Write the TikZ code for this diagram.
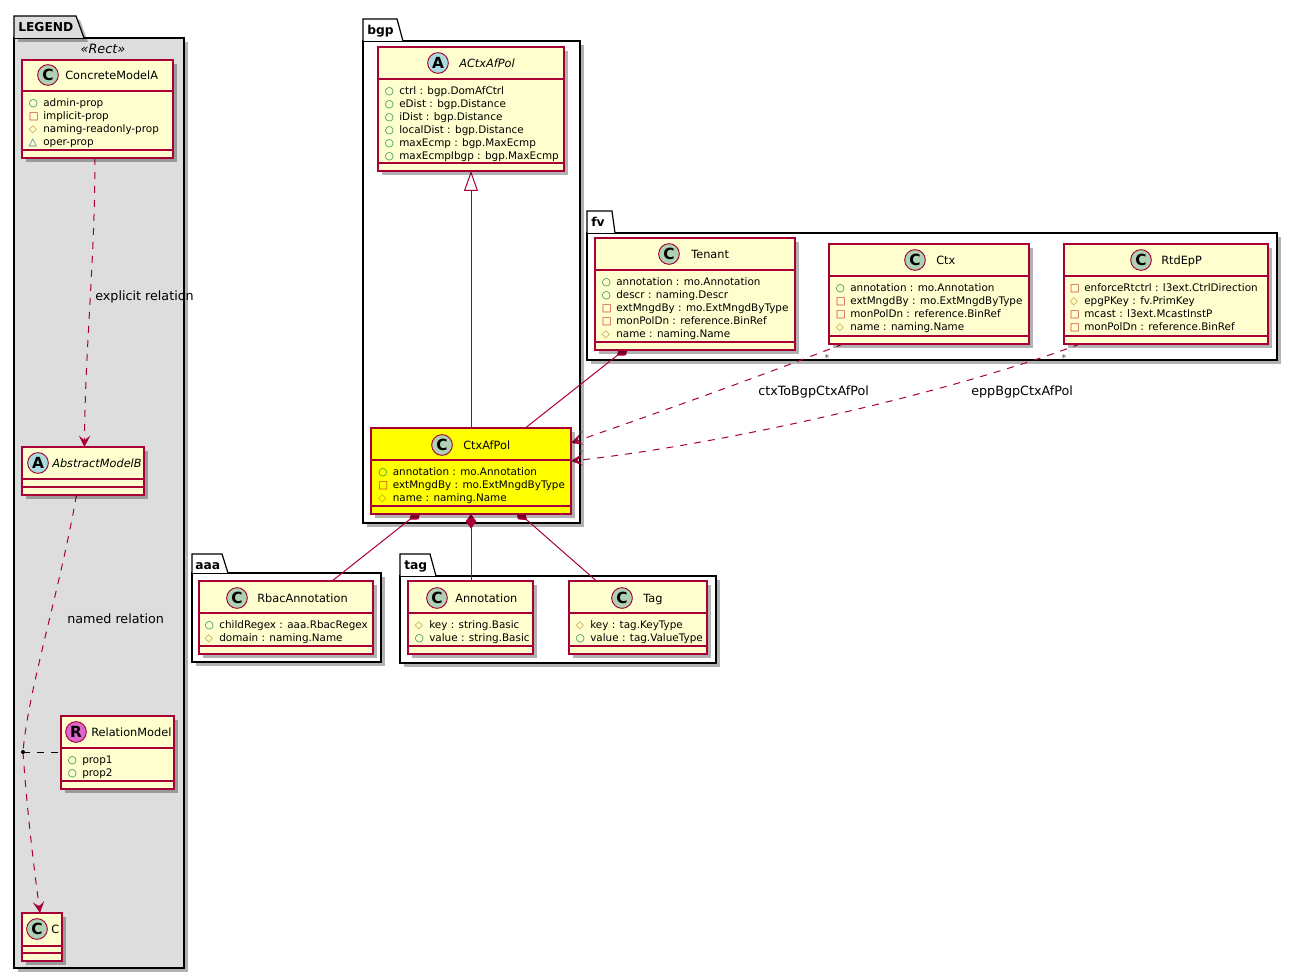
\documentclass[tikz,border=0pt]{standalone}
\usepackage{fontspec}
\setmainfont{DejaVu Sans}
\usepackage{xcolor}
\usetikzlibrary{arrows.meta, shapes.geometric, shadows}

\definecolor{umlborder}{HTML}{A80036}
\definecolor{umlfill}{HTML}{FEFECE}
\definecolor{spotgreen}{HTML}{ADD1B2}
\definecolor{spotblue}{HTML}{A9DCDF}
\definecolor{spotpink}{HTML}{DD66CC}
\definecolor{legendgray}{HTML}{DDDDDD}
\definecolor{brightyellow}{HTML}{FFFF00}
\definecolor{pubcolor}{HTML}{038048}
\definecolor{privcolor}{HTML}{C82930}
\definecolor{protcolor}{HTML}{B38D22}
\definecolor{pkgcolor}{HTML}{1963A0}

\pgfdeclarelayer{pkglayer}
\pgfdeclarelayer{edgelayer}
\pgfsetlayers{pkglayer,edgelayer,main}

\newcommand{\icon}[2]{\rule{0pt}{7pt}\makebox[10.9pt][l]{\textcolor{#1}{#2}}}
\newcommand{\pub}{\icon{pubcolor}{○}}
\newcommand{\priv}{\icon{privcolor}{□}}
\newcommand{\prot}{\icon{protcolor}{◇}}
\newcommand{\pkgv}{\icon{pkgcolor}{△}}

% [fill]{name}{left}{top}{right}{bottom}{first rule}{second rule}
\newcommand{\classbox}[8][umlfill]{
  \node [classnode, fill=#1, minimum width=(#5-#3)*0.75pt, minimum height=(#6-#4)*0.75pt] (#2) at ({(#3+#5)/2},{(#4+#6)/2}) {};
  \draw [umlborder, line width=0.9pt] (#3,#7) -- (#5,#7) (#3,#8) -- (#5,#8);
}

\begin{document}
\begin{tikzpicture}[x=0.75pt, y=-0.75pt,
  classnode/.style={rectangle, draw=umlborder, line width=0.9pt, inner sep=0pt, outer sep=0pt,
    drop shadow={shadow xshift=3pt, shadow yshift=-3pt, fill=black, opacity=0.3}},
  pkgbody/.style={rectangle, draw=black, fill=white, line width=0.9pt, inner sep=0pt, outer sep=0pt,
    drop shadow={shadow xshift=3pt, shadow yshift=-3pt, fill=black, opacity=0.3}},
  pkgtab/.style={draw=black, fill=white, line width=0.9pt},
  pkgname/.style={anchor=west, inner sep=0pt, text height=6.7pt, text depth=0pt, font=\fontsize{9.2}{11}\selectfont\bfseries},
  spot/.style={circle, draw=umlborder, line width=0.7pt, minimum size=15.5pt, inner sep=0pt, text=black,
    font=\fontsize{11.5}{12}\selectfont\bfseries},
  cspot/.style={spot, fill=spotgreen},
  aspot/.style={spot, fill=spotblue},
  rspot/.style={spot, fill=spotpink},
  classname/.style={anchor=west, inner sep=0pt, text height=6.2pt, text depth=0pt, font=\fontsize{8.5}{10}\selectfont},
  props/.style={anchor=north west, inner sep=0pt, align=left, font=\fontsize{7.8}{9.75}\selectfont},
  edgelabel/.style={anchor=west, inner sep=0pt, text height=7.1pt, text depth=0pt, font=\fontsize{9.55}{11}\selectfont},
  mult/.style={inner sep=0pt, text=black!70, font=\fontsize{7}{8}\selectfont},
  relation/.style={draw=umlborder, line width=0.75pt},
  depend/.style={relation, dash pattern=on 5.25pt off 5.25pt, -{Stealth[length=8.5pt, width=8.5pt, inset=3.5pt]}},
  composed/.style={relation, {Diamond[length=11pt, width=8pt]}-, shorten <=-4pt},
  inherit/.style={relation, -{Triangle[open, length=15pt, width=10.5pt, fill=white]}}]

  \useasboundingbox (0,0) rectangle (1297,980);

  % packages
  \begin{pgfonlayer}{pkglayer}
    \node [pkgbody, fill=legendgray, minimum width=127.5pt, minimum height=697.5pt] (legendPkg) at (99,503) {};
    \draw [pkgtab, fill=legendgray, drop shadow={shadow xshift=3pt, shadow yshift=-3pt, fill=black, opacity=0.3}] (legendPkg.north west) -- (14,16) -- (76,16) -- (84,38);
    \node [pkgname] (legendName) at (18,27) {LEGEND};

    \node [pkgbody, minimum width=162.75pt, minimum height=361.5pt] (bgpPkg) at (471.5,282) {};
    \draw [pkgtab] (bgpPkg.north west) -- (363,19) -- (397,19) -- (403,41);
    \node [pkgname] (bgpName) at (367,30) {bgp};

    \node [pkgbody, minimum width=517.5pt, minimum height=95.25pt] (fvPkg) at (932,296.5) {};
    \draw [pkgtab] (fvPkg.north west) -- (587,211) -- (612,211) -- (615,233);
    \node [pkgname] (fvName) at (591,222) {fv};

    \node [pkgbody, minimum width=141.75pt, minimum height=66.75pt] (aaaPkg) at (286.5,617.5) {};
    \draw [pkgtab] (aaaPkg.north west) -- (192,554) -- (222,554) -- (228,573);
    \node [pkgname] (aaaName) at (195,565) {aaa};

    \node [pkgbody, minimum width=237pt, minimum height=65.25pt] (tagPkg) at (558,619.5) {};
    \draw [pkgtab] (tagPkg.north west) -- (400,554) -- (430,554) -- (436,576);
    \node [pkgname] (tagName) at (404,565) {tag};
  \end{pgfonlayer}

  % legend
  \node [inner sep=0pt, font=\fontsize{9.6}{10}\selectfont\itshape] (rectStereo) at (103,49) {«Rect»};

  \classbox{concreteA}{22}{60}{173}{158}{91}{150}
  \node [cspot] (concreteASpot) at (48,75) {C};
  \node [classname] (concreteAName) at (65,75) {ConcreteModelA};
  \node [props] (concreteAProps) at (28.5,96.7) {\pub admin-prop\\\priv implicit-prop\\\prot naming-readonly-prop\\\pkgv oper-prop};

  \classbox{abstractB}{22}{447}{144}{495}{479}{487}
  \node [aspot] (abstractBSpot) at (38,463) {A};
  \node [classname, font=\fontsize{8.5}{10}\selectfont\itshape] (abstractBName) at (52,463) {AbstractModelB};

  \classbox{relationModel}{61}{716}{174}{789}{748}{781}
  \node [rspot] (relationSpot) at (76,732) {R};
  \node [classname] (relationName) at (91,732) {RelationModel};
  \node [props] (relationProps) at (67.5,753.7) {\pub prop1\\\pub prop2};

  \classbox{classC}{22}{913}{62}{961}{946}{953}
  \node [cspot] (classCSpot) at (37,929) {C};
  \node [classname] (classCName) at (51,929) {C};

  % bgp
  \classbox{aCtxAfPol}{378}{47}{564}{171}{79}{163}
  \node [aspot] (aCtxAfPolSpot) at (438,63) {A};
  \node [classname, font=\fontsize{8.5}{10}\selectfont\itshape] (aCtxAfPolName) at (459,63) {ACtxAfPol};
  \node [props] (aCtxAfPolProps) at (384.5,84.7) {\pub ctrl : bgp.DomAfCtrl\\\pub eDist : bgp.Distance\\\pub iDist : bgp.Distance\\\pub localDist : bgp.Distance\\\pub maxEcmp : bgp.MaxEcmp\\\pub maxEcmpIbgp : bgp.MaxEcmp};

  \classbox[brightyellow]{ctxAfPol}{371}{428}{571}{514}{460}{506}
  \node [cspot] (ctxAfPolSpot) at (442,445) {C};
  \node [classname] (ctxAfPolName) at (463,445) {CtxAfPol};
  \node [props] (ctxAfPolProps) at (378,465.7) {\pub annotation : mo.Annotation\\\priv extMngdBy : mo.ExtMngdByType\\\prot name : naming.Name};

  % fv
  \classbox{tenant}{595}{238}{795}{350}{270}{342}
  \node [cspot] (tenantSpot) at (669,254) {C};
  \node [classname] (tenantName) at (691,254) {Tenant};
  \node [props] (tenantProps) at (601.5,275.7) {\pub annotation : mo.Annotation\\\pub descr : naming.Descr\\\priv extMngdBy : mo.ExtMngdByType\\\priv monPolDn : reference.BinRef\\\prot name : naming.Name};

  \classbox{ctx}{829}{244}{1029}{344}{276}{336}
  \node [cspot] (ctxSpot) at (915,260) {C};
  \node [classname] (ctxName) at (936,260) {Ctx};
  \node [props] (ctxProps) at (835.5,281.7) {\pub annotation : mo.Annotation\\\priv extMngdBy : mo.ExtMngdByType\\\priv monPolDn : reference.BinRef\\\prot name : naming.Name};

  \classbox{rtdEpP}{1064}{244}{1268}{344}{276}{336}
  \node [cspot] (rtdEpPSpot) at (1141,260) {C};
  \node [classname] (rtdEpPName) at (1161,260) {RtdEpP};
  \node [props] (rtdEpPProps) at (1069.5,281.7) {\priv enforceRtctrl : l3ext.CtrlDirection\\\prot epgPKey : fv.PrimKey\\\priv mcast : l3ext.McastInstP\\\priv monPolDn : reference.BinRef};

  % aaa and tag
  \classbox{rbacAnnotation}{199}{581}{373}{654}{613}{646}
  \node [cspot] (rbacSpot) at (237,598) {C};
  \node [classname] (rbacName) at (257,598) {RbacAnnotation};
  \node [props] (rbacProps) at (204.5,618.7) {\pub childRegex : aaa.RbacRegex\\\prot domain : naming.Name};

  \classbox{annotation}{408}{581}{533}{654}{613}{646}
  \node [cspot] (annotationSpot) at (437,598) {C};
  \node [classname] (annotationName) at (455,598) {Annotation};
  \node [props] (annotationProps) at (414.5,618.7) {\prot key : string.Basic\\\pub value : string.Basic};

  \classbox{tagClass}{569}{581}{707}{654}{613}{646}
  \node [cspot] (tagSpot) at (622,598) {C};
  \node [classname] (tagClassName) at (643,598) {Tag};
  \node [props] (tagProps) at (575.5,618.7) {\prot key : tag.KeyType\\\pub value : tag.ValueType};

  % relations
  \coordinate (relationDot) at (23,752);
  \begin{pgfonlayer}{edgelayer}
    \draw [depend] ([xshift=-1.9pt]concreteA.south) .. controls (95,260) and (85,350) .. ([xshift=1.1pt]abstractB.north);
    \draw [relation, dash pattern=on 5.25pt off 5.25pt] ([xshift=-4.9pt]abstractB.south) .. controls (60,590) and (28,690) .. (relationDot);
    \draw [depend] (relationDot) .. controls (27,810) and (33,860) .. ([xshift=-1.5pt]classC.north);
    \draw [relation, draw=black, dash pattern=on 5.25pt off 5.25pt] (relationDot) -- (relationModel.west |- relationDot);
    \draw [inherit] (ctxAfPol.north) -- (aCtxAfPol.south);
    \draw [composed] (tenant) -- (ctxAfPol);
    \draw [composed] (ctxAfPol) -- (rbacAnnotation);
    \draw [composed, shorten <=0pt] (ctxAfPol.south) -- (ctxAfPol.south |- annotation.north);
    \draw [composed] (ctxAfPol) -- (tagClass);
    \draw [depend] ([xshift=-64.5pt]ctx.south) .. controls (750,380) and (660,412) .. ([yshift=21pt]ctxAfPol.east);
    \draw [depend] ([xshift=-64.5pt]rtdEpP.south) .. controls (950,393) and (720,445) .. ([yshift=7.5pt]ctxAfPol.east);
  \end{pgfonlayer}
  \fill [black] (relationDot) circle (1.5pt);

  \node [edgelabel] (explicitLabel) at (95,296) {explicit relation};
  \node [edgelabel] (namedLabel) at (67,619) {named relation};
  \node [edgelabel] (ctxLabel) at (758,390.5) {ctxToBgpCtxAfPol};
  \node [edgelabel] (eppLabel) at (971,390.5) {eppBgpCtxAfPol};
  \node [mult] (ctxStarA) at (827,358) {*};
  \node [mult] (rtdStarA) at (1064,358) {*};
  \node [mult] (ctxStarB) at (581,434) {*};
  \node [mult] (rtdStarB) at (581,453) {*};
\end{tikzpicture}
\end{document}
